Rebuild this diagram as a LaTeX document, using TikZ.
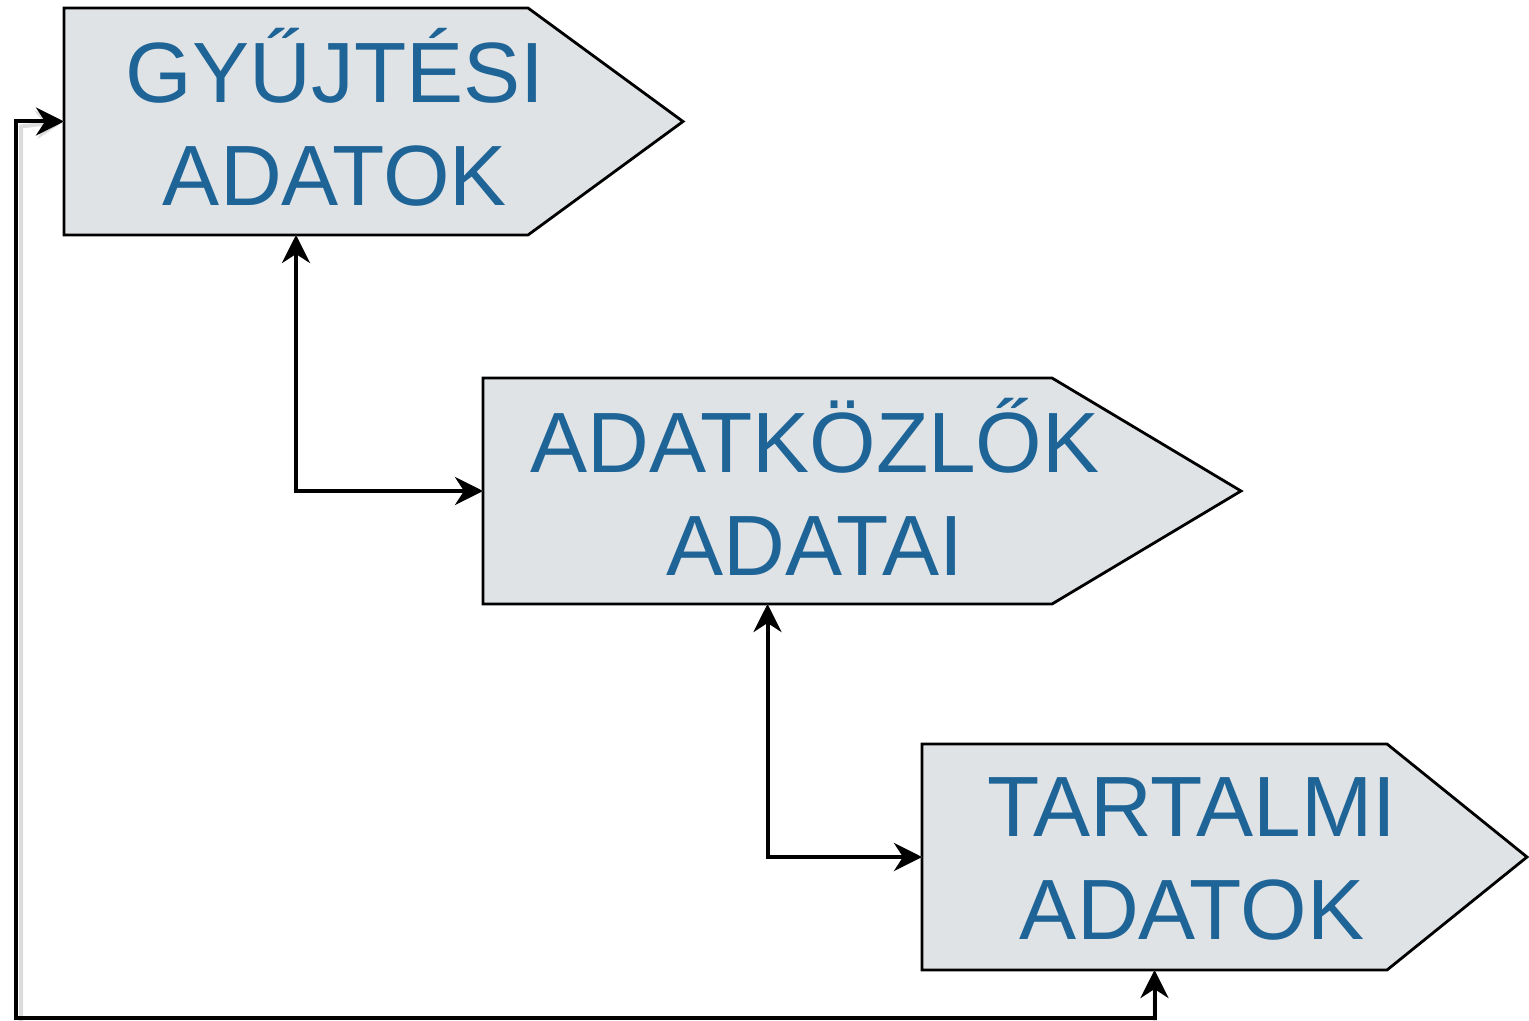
\documentclass[tikz,border=0pt]{standalone}
\usepackage{fontspec}
\setmainfont{Liberation Sans}
\usetikzlibrary{arrows.meta}
\definecolor{boxfill}{HTML}{DFE3E6}
\definecolor{txtblue}{HTML}{1F6496}
\definecolor{shadowgray}{HTML}{DCDCDC}
\tikzset{
  rectpart/.style={inner sep=0pt, outer sep=0pt},
  boxshape/.style={draw=black, fill=boxfill, line width=1.4pt, line join=miter},
  label/.style={text=txtblue, font=\fontsize{42.8pt}{51.5pt}\selectfont, align=center, inner sep=0pt},
  conn/.style={line width=2pt, {Stealth[length=14pt,width=14pt,inset=4.5pt]}-{Stealth[length=14pt,width=14pt,inset=4.5pt]}, line join=miter},
  connshadow/.style={conn, draw=shadowgray, {Stealth[length=14pt,width=14pt,inset=4.5pt,fill=shadowgray]}-{Stealth[length=14pt,width=14pt,inset=4.5pt,fill=shadowgray]}}
}
\begin{document}
\begin{tikzpicture}[x=0.5pt,y=-0.5pt]
\useasboundingbox (0,0) rectangle (1529,1021);
% rectangle parts of the three signal shapes
\node[rectpart, minimum width=232pt, minimum height=113.5pt] (g) at (296,121.5) {};
\node[rectpart, minimum width=284.5pt, minimum height=113pt] (a) at (767.5,491) {};
\node[rectpart, minimum width=232.5pt, minimum height=113pt] (t) at (1154.5,857) {};
% shapes
\draw[boxshape] (g.north west) -- (g.north east) -- (683,121.5) -- (g.south east) -- (g.south west) -- cycle;
\draw[boxshape] (a.north west) -- (a.north east) -- (1241,491) -- (a.south east) -- (a.south west) -- cycle;
\draw[boxshape] (t.north west) -- (t.north east) -- (1527,857) -- (t.south east) -- (t.south west) -- cycle;
% texts
\node[label] (gl) at (335,117) {GYŰJTÉSI\\ADATOK};
\node[label] (al) at (815,487) {ADATKÖZLŐK\\ADATAI};
\node[label] (tl) at (1192,859) {TARTALMI\\ADATOK};
% connector shadows
\begin{scope}[shift={(5,5)}]
\draw[connshadow] (g.south) |- (a.west);
\draw[connshadow] (a.south) |- (t.west);
\draw[connshadow] (t.south) -- ++(0,161) -| (16,121.5) -- (g.west);
\end{scope}
% connectors
\draw[conn] (g.south) |- (a.west);
\draw[conn] (a.south) |- (t.west);
\coordinate (bl) at (16,1018);
\draw[conn] (t.south) |- (bl) |- (g.west);
\end{tikzpicture}
\end{document}
